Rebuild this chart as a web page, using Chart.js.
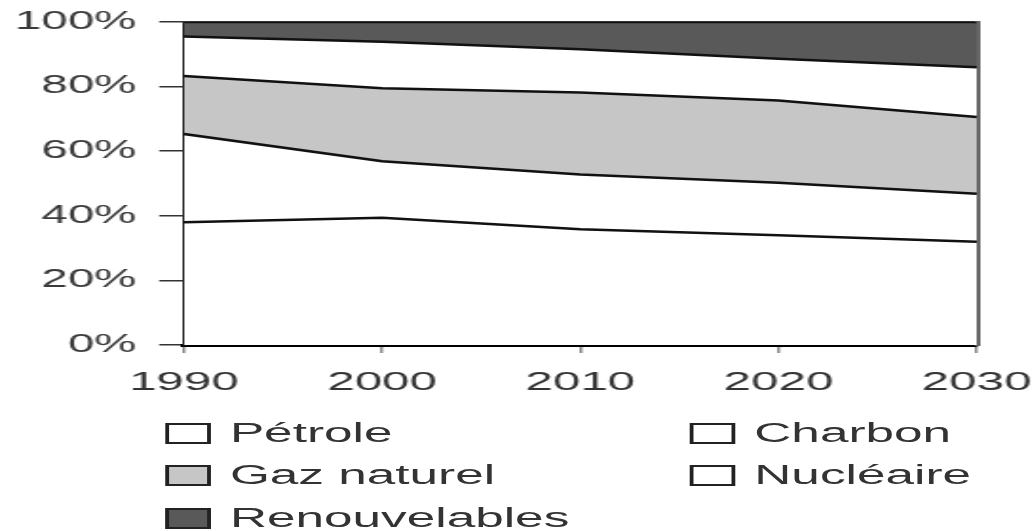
<!DOCTYPE html>
<html>
<head>
<meta charset="utf-8">
<script src="https://cdn.jsdelivr.net/npm/chart.js@4"></script>
<style>
  html, body { margin: 0; padding: 0; background: #fff; overflow: hidden; }
  /* the source picture is stretched sideways, so the whole thing is drawn narrow and widened */
  #wrap { position: relative; width: 544px; height: 531px; transform: scaleX(1.9); transform-origin: 0 0; }
  #chart { position: absolute; left: 0; top: 0; }
  .item { position: absolute; height: 24px; display: flex; align-items: center;
          font-family: "Liberation Sans", Arial, sans-serif; font-size: 27px; color: #333; white-space: nowrap; }
  .box { width: 20px; height: 17px; border: 2px solid #222; margin-right: 10px; }
</style>
</head>
<body>
<div id="wrap">
  <canvas id="chart" width="544" height="400"></canvas>
  <div id="legend"></div>
</div>
<script>
// Years on the x axis
const years = ["1990", "2000", "2010", "2020", "2030"];

// Share of each energy source (%), bottom to top of the stack
const petrole = [38, 39.4, 35.8, 34, 32];
const charbon = [27.3, 17.5, 17, 16.2, 14.8];
const gazNaturel = [18, 22.6, 25.4, 25.5, 23.8];
const nucleaire = [12.2, 14.4, 13.4, 12.9, 15.4];
const renouvelables = [4.5, 6.1, 8.4, 11.4, 14];

const seriesNames = ["Pétrole", "Charbon", "Gaz naturel", "Nucléaire", "Renouvelables"];
const seriesColors = ["#ffffff", "#ffffff", "#c6c6c6", "#ffffff", "#595959"];
const yTicks = [0, 20, 40, 60, 80, 100];

const seriesData = [petrole, charbon, gazNaturel, nucleaire, renouvelables];

const datasets = seriesData.map(function (values, i) {
  return {
    label: seriesNames[i],
    data: values,
    backgroundColor: seriesColors[i],
    borderColor: "#111",
    borderWidth: 2.5,
    fill: i === 0 ? "origin" : "-1",
    pointRadius: 0,
    tension: 0
  };
});

// keep the plot box where the picture has it, whatever the labels hang over
function noOverhang(scale) {
  scale.paddingLeft = 0;
  scale.paddingRight = 0;
  scale.paddingTop = 0;
  scale.paddingBottom = 0;
}

const ctx = document.querySelector("#chart").getContext("2d");
const chart = new Chart(ctx, {
  type: "line",
  data: { labels: years, datasets: datasets },
  options: {
    responsive: false,
    animation: false,
    layout: { padding: { left: 0, top: 22, right: 30, bottom: 0 } },
    plugins: { legend: { display: false }, tooltip: { enabled: false } },
    scales: {
      x: {
        type: "category",
        offset: false,
        grid: { drawOnChartArea: false, drawTicks: true, tickLength: 8, color: "#888", lineWidth: 1.5 },
        border: { display: true, color: "#000", width: 3 },
        ticks: { color: "#333", padding: 14, font: { family: "Liberation Sans", size: 26 }, maxRotation: 0, autoSkip: false },
        afterFit: function (scale) { scale.height = 55; noOverhang(scale); }
      },
      y: {
        stacked: true,
        min: 0,
        max: 100,
        afterBuildTicks: function (scale) { scale.ticks = yTicks.map(function (v) { return { value: v }; }); },
        grid: { drawOnChartArea: false, drawTicks: true, tickLength: 13, color: "#333", lineWidth: 1.5 },
        border: { display: true, color: "#222", width: 2.2 },
        ticks: {
          color: "#3a3a3a",
          padding: 12,
          font: { family: "Liberation Sans", size: 25 },
          callback: function (v) { return v + "%"; }
        },
        afterFit: function (scale) { scale.width = 96.8; noOverhang(scale); }
      },
      xTop: {
        type: "category",
        position: "top",
        labels: years,
        grid: { display: false },
        border: { display: true, color: "#333", width: 2 },
        ticks: { display: false },
        afterFit: function (scale) { scale.height = 0; noOverhang(scale); }
      },
      yRight: {
        type: "linear",
        position: "right",
        min: 0,
        max: 100,
        grid: { display: false },
        border: { display: true, color: "#666", width: 3 },
        ticks: { display: false },
        afterFit: function (scale) { scale.width = 0; noOverhang(scale); }
      }
    }
  }
});

// Legend in two columns below the chart
const legendSpots = [
  [87, 421], [363, 421],
  [87, 463], [363, 463],
  [87, 506]
];
const legendEl = document.querySelector("#legend");
seriesNames.forEach(function (name, i) {
  const item = document.createElement("div");
  item.className = "item";
  item.style.left = legendSpots[i][0] + "px";
  item.style.top = legendSpots[i][1] + "px";
  const box = document.createElement("span");
  box.className = "box";
  box.style.background = seriesColors[i];
  item.appendChild(box);
  item.appendChild(document.createTextNode(name));
  legendEl.appendChild(item);
});
</script>
</body>
</html>
